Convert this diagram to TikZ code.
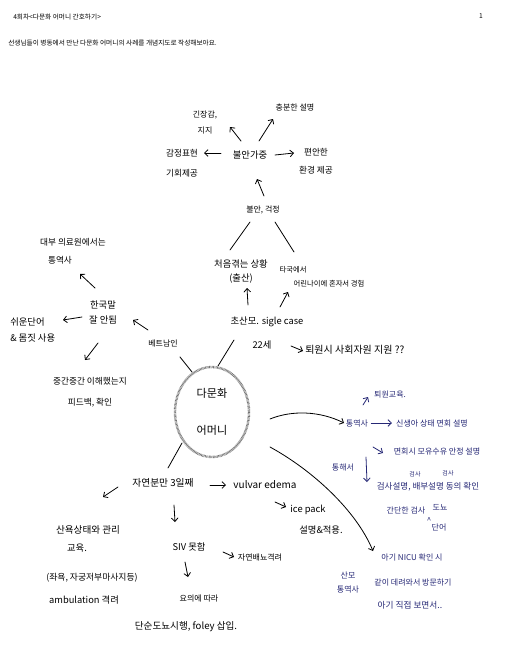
\documentclass[tikz,border=0pt]{standalone}
\usepackage{fontspec}
\newfontfamily\kr{Noto Sans CJK KR}
\usetikzlibrary{arrows.meta,shapes.geometric}
\definecolor{ink}{RGB}{38,40,118}
\begin{document}
\begin{tikzpicture}[x=0.75pt,y=-0.75pt,
  kfont/.style 2 args={font=\kr\fontsize{#1}{#2}\selectfont},
  lab/.style={inner sep=0pt, kfont={7}{8}},
  labs/.style={inner sep=0pt, kfont={6}{7}},
  blab/.style={labs, text=ink},
  pen/.style={line width=0.6pt, line cap=round},
  arr/.style={pen, -{Straight Barb[length=2.6pt,width=5pt]}},
  barr/.style={arr, draw=ink},
]
\fill[white] (0,0) rectangle (505,646);
\useasboundingbox (0,0) rectangle (505,646);

% header
\node[inner sep=0pt, kfont={5}{6}, anchor=west] (title) at (13,17) {4회차<다문화 어머니 간호하기>};
\node[inner sep=0pt, kfont={5}{6}] (pgno) at (481,16) {1};
\node[inner sep=0pt, kfont={5}{6}, anchor=west] (intro) at (8,43) {선생님들이 병동에서 만난 다문화 어머니의 사례를 개념지도로 작성해보아요.};

% top cluster
\node[lab] (anx) at (250,155) {불안가중};
\node[labs, align=center, kfont={6}{12}] (jj) at (205,123) {긴장감,\\지지};
\node[labs] (chb) at (295,107) {충분한 설명};
\node[labs, align=center, kfont={6.5}{15}] (gam) at (182,163) {감정표현\\기회제공};
\node[labs, align=center, kfont={6.5}{13.5}] (pyn) at (316,161) {편안한\\환경 제공};
\node[labs] (wor) at (263,210) {불안, 걱정};

% middle
\node[lab, align=center, kfont={7}{10.5}] (first) at (241,272) {처음겪는 상황\\(출산)};
\node[inner sep=0pt, kfont={5.5}{6}] (tak1) at (293,270) {타국에서};
\node[inner sep=0pt, kfont={5.5}{6}] (tak2) at (329,284) {어린나이에 혼자서 경험};
\node[lab] (prim) at (267,322) {초산모. sigle case};
\node[lab] (age) at (262,345) {22세};
\node[inner sep=0pt, kfont={7.5}{8}, anchor=west] (refer) at (305,350) {퇴원시 사회자원 지원 ??};

% centre
\node[ellipse, draw=black!55, line width=1.8pt, dash pattern=on 0.5pt off 0.5pt,
  minimum width=55.5pt, minimum height=67.5pt, inner sep=0pt, align=center,
  kfont={8.3}{28}] (mom) at (212,412) {다문화\\어머니};

% left cluster
\node[labs] (viet) at (163,343) {베트남인};
\node[lab, align=center, kfont={7}{11.25}] (kor) at (103,312) {한국말\\잘 안됨};
\node[inner sep=0pt, kfont={6.5}{7}] (trans1) at (73,242) {대부 의료원에서는};
\node[inner sep=0pt, kfont={6.5}{7}] (trans2) at (60,260) {통역사};
\node[lab, align=left, kfont={7}{12}, anchor=west] (easy) at (10,330) {쉬운단어\\\& 몸짓 사용};
\node[inner sep=0pt, align=center, kfont={6.5}{15.75}] (mid) at (90,392) {중간중간 이해했는지\\피드백, 확인};

% right (blue) cluster
\node[blab] (tong) at (357,423) {통역사};
\node[blab] (sin) at (432,423) {신생아 상태 면회 설명};
\node[blab] (toe) at (390,395) {퇴원교육.};
\node[blab] (myeon) at (437,452) {면회시 모유수유 안정 설명};
\node[blab] (via) at (343,468) {통해서};
\node[inner sep=0pt, text=ink, kfont={6.4}{7}] (gum) at (428,487) {검사설명, 배부설명 동의 확인};
\node[inner sep=0pt, text=ink, kfont={4.5}{5}] (ann1) at (415,474) {검사};
\node[inner sep=0pt, text=ink, kfont={4.5}{5}] (ann2) at (448,473) {검사};
\node[blab] (gan1) at (406,510) {간단한 검사};
\node[blab] (gan2) at (440,507) {도뇨};
\node[blab] (caret) at (429,520) {\textasciicircum};
\node[blab] (gan3) at (439,528) {단어};
\node[blab] (nicu) at (412,557) {아기 NICU 확인 시};
\node[blab, align=center, kfont={6}{10.5}] (sanmo) at (348,582) {산모\\통역사};
\node[blab] (visit) at (413,582) {같이 데려와서 방문하기};
\node[blab, kfont={6.5}{7}] (see) at (410,605) {아기 직접 보면서..};

% bottom cluster
\node[lab, kfont={7.3}{8}] (nat) at (163,483) {자연분만 3일째};
\node[lab, kfont={7.5}{8}] (vul) at (265,485) {vulvar edema};
\node[lab] (ice) at (308,510) {ice pack};
\node[lab] (ice2) at (321,530) {설명\&적용.};
\node[lab, kfont={7.2}{8}] (edu1) at (88,530) {산욕상태와 관리};
\node[lab] (edu2) at (77,548) {교육.};
\node[lab, kfont={6.6}{7}] (edu3) at (92,578) {(좌욕, 자궁저부마사지등)};
\node[lab] (edu4) at (84,600) {ambulation 격려};
\node[lab] (siv) at (189,547) {SIV 못함};
\node[labs] (self) at (260,558) {자연배뇨격려};
\node[labs] (yo) at (199,598) {요의에 따라};
\node[lab, kfont={7.2}{8}] (foley) at (186,627) {단순도뇨시행, foley 삽입.};

% connectors: top
\draw[arr] ([shift={(-9,-14)}]anx.center) -- ([shift={(25,4)}]jj.center);
\draw[arr] ([shift={(9,-14)}]anx.center) -- ([shift={(-22,12)}]chb.center);
\draw[arr] ([shift={(-29,-2)}]anx.center) -- ([shift={(22,-10)}]gam.center);
\draw[arr] ([shift={(25,0)}]anx.center) -- ([shift={(-22,-8)}]pyn.center);
\draw[arr] ([shift={(1,-14)}]wor.center) -- ([shift={(7,24)}]anx.center);
\draw[pen] ([shift={(-13,12)}]wor.center) -- ([shift={(-11,-22)}]first.center);
\draw[pen] ([shift={(12,12)}]wor.center) -- ([shift={(1,-18)}]tak1.center);

% middle
\draw[arr] ([shift={(-19,-17)}]prim.center) -- ([shift={(6,16)}]first.center);
\draw[arr] ([shift={(13,-15)}]prim.center) -- ([shift={(-5,22)}]tak1.center);
\draw[arr] ([shift={(29,1)}]age.center) -- ([shift={(-2,1)}]refer.west);
\draw[pen] ([shift={(6,-46)}]mom.center) -- ([shift={(-28,-5)}]age.center);
\draw[pen] ([shift={(17,14)}]viet.center) -- ([shift={(-20,-40)}]mom.center);
\draw[pen] ([shift={(-30,31)}]mom.center) -- ([shift={(5,-15)}]nat.center);

% left
\draw[arr] ([shift={(-15,-13)}]viet.center) -- ([shift={(30,8)}]kor.center);
\draw[arr] ([shift={(-8,-24)}]kor.center) -- ([shift={(20,14)}]trans2.center);
\draw[arr] ([shift={(-21,5)}]kor.center) -- ([shift={(53,-10)}]easy.west);
\draw[arr] ([shift={(-5,31)}]kor.center) -- ([shift={(-5,-32)}]mid.center);

% right
\draw[arr] ([shift={(58,7)}]mom.center) .. controls (292,410) and (320,411) .. ([shift={(-13,0)}]tong.center);
\draw[barr] ([shift={(3,0)}]tong.east) -- ([shift={(-4,0)}]sin.west);
\draw[barr] ([shift={(6,-18)}]tong.center) -- ([shift={(-22,2)}]toe.center);
\draw[barr] ([shift={(16,24)}]tong.center) -- ([shift={(-54,1)}]myeon.center);
\draw[barr] ([shift={(9,34)}]tong.center) -- ([shift={(-61,-5)}]gum.center);
\draw[arr] ([shift={(58,35)}]mom.center) .. controls (312,470) and (356,510) .. ([shift={(-39,-6)}]nicu.center);

% bottom
\draw[arr] ([shift={(47,2)}]nat.center) -- ([shift={(-39,0)}]vul.center);
\draw[arr] ([shift={(10,17)}]vul.center) -- ([shift={(-22,-3)}]ice.center);
\draw[arr] ([shift={(-45,4)}]nat.center) -- ([shift={(15,-33)}]edu1.center);
\draw[arr] ([shift={(11,22)}]nat.center) -- ([shift={(-14,-25)}]siv.center);
\draw[arr] ([shift={(34,5)}]siv.center) -- ([shift={(-26,-1)}]self.center);
\draw[arr] ([shift={(-4,15)}]siv.center) -- ([shift={(-11,-21)}]yo.center);
\end{tikzpicture}
\end{document}
